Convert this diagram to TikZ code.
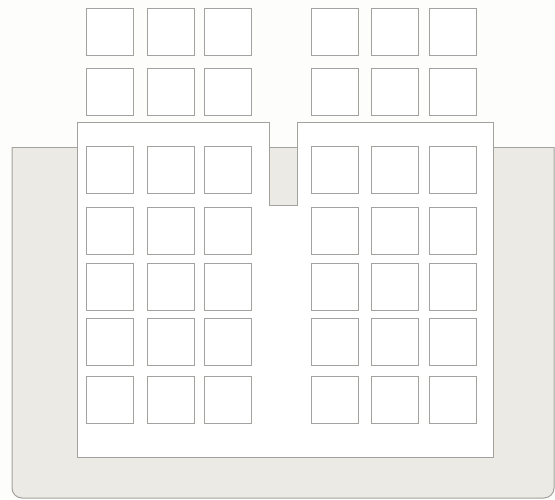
\documentclass[tikz,border=0pt]{standalone}
\usepackage{tikz}
\definecolor{paper}{HTML}{FDFDFB}
\definecolor{ground}{HTML}{ECEAE5}
\definecolor{edge}{HTML}{A3A29E}
\tikzset{
  pane/.style={draw=edge,line width=1pt,fill=white,minimum size=47pt,inner sep=0pt},
  wall/.style={draw=edge,line width=1pt}
}
\begin{document}
\begin{tikzpicture}[x=1pt,y=-1pt]
\useasboundingbox[fill=paper] (0,0) rectangle (555,499);
% ground
\draw[wall,fill=ground,rounded corners=10pt] (12,147) -- (12,498) -- (554,498) -- (554,147);
\draw[wall] (12,147) -- (554,147);
% building
\draw[wall,fill=white] (77,122) -- (269,122) -- (269,205) -- (297,205) -- (297,122)
  -- (493,122) -- (493,457) -- (77,457) -- cycle;

\begin{scope}[local bounding box=lefttower]
  \node[pane] (L1a) at (110,32) {}; \node[pane] (L1b) at (171,32) {}; \node[pane] (L1c) at (228,32) {};
  \node[pane] (L2a) at (110,92) {}; \node[pane] (L2b) at (171,92) {}; \node[pane] (L2c) at (228,92) {};
  \node[pane] (L3a) at (110,170) {}; \node[pane] (L3b) at (171,170) {}; \node[pane] (L3c) at (228,170) {};
  \node[pane] (L4a) at (110,231) {}; \node[pane] (L4b) at (171,231) {}; \node[pane] (L4c) at (228,231) {};
  \node[pane] (L5a) at (110,287) {}; \node[pane] (L5b) at (171,287) {}; \node[pane] (L5c) at (228,287) {};
  \node[pane] (L6a) at (110,342) {}; \node[pane] (L6b) at (171,342) {}; \node[pane] (L6c) at (228,342) {};
  \node[pane] (L7a) at (110,400) {}; \node[pane] (L7b) at (171,400) {}; \node[pane] (L7c) at (228,400) {};
\end{scope}

\begin{scope}[local bounding box=righttower]
  \node[pane] (R1a) at (335,32) {}; \node[pane] (R1b) at (395,32) {}; \node[pane] (R1c) at (453,32) {};
  \node[pane] (R2a) at (335,92) {}; \node[pane] (R2b) at (395,92) {}; \node[pane] (R2c) at (453,92) {};
  \node[pane] (R3a) at (335,170) {}; \node[pane] (R3b) at (395,170) {}; \node[pane] (R3c) at (453,170) {};
  \node[pane] (R4a) at (335,231) {}; \node[pane] (R4b) at (395,231) {}; \node[pane] (R4c) at (453,231) {};
  \node[pane] (R5a) at (335,287) {}; \node[pane] (R5b) at (395,287) {}; \node[pane] (R5c) at (453,287) {};
  \node[pane] (R6a) at (335,342) {}; \node[pane] (R6b) at (395,342) {}; \node[pane] (R6c) at (453,342) {};
  \node[pane] (R7a) at (335,400) {}; \node[pane] (R7b) at (395,400) {}; \node[pane] (R7c) at (453,400) {};
\end{scope}

\end{tikzpicture}
\end{document}
